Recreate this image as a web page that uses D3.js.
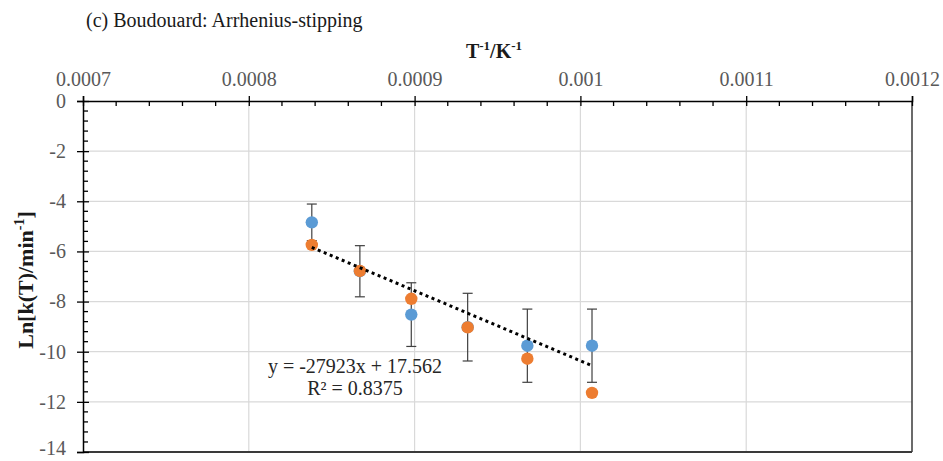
<!DOCTYPE html>
<html>
<head>
<meta charset="utf-8">
<script src="https://d3js.org/d3.v7.min.js"></script>
<style>
  body { margin: 0; background: #fff; }
  svg text { font-family: "Liberation Serif", "Times New Roman", serif; }
</style>
</head>
<body>
<div id="chart"></div>
<script>
// values
var invT      = [0.000838, 0.000867, 0.000898, 0.000932, 0.000968, 0.001007];
var blueLnk   = [-4.84, -6.79, -8.52, -9.02, -9.76, -9.76];
var blueErr   = [0.73, 1.02, 1.27, 1.35, 1.46, 1.46];
var orangeLnk = [-5.74, -6.78, -7.89, -9.03, -10.28, -11.64];
var xTicks    = [0.0007, 0.0008, 0.0009, 0.001, 0.0011, 0.0012];
var xTickText = ["0.0007", "0.0008", "0.0009", "0.001", "0.0011", "0.0012"];
var yTicks    = [0, -2, -4, -6, -8, -10, -12, -14];
var fitSlope = -27923, fitIntercept = 17.562;
var fitText = ["y = -27923x + 17.562", "R² = 0.8375"];

var width = 943, height = 461
  , svg = d3.select("#chart").append("svg").attr("width", width).attr("height", height)
  , x = d3.scaleLinear().domain([0.0007, 0.0012]).range([83, 912])
  , y = d3.scaleLinear().domain([-14, 0]).range([452, 101]);

var grey = "#595959"
  , serif = "Liberation Serif, Times New Roman, serif";

// gridlines
svg.append("g").selectAll("line").data(yTicks.slice(1, -1)).join("line")
    .attr("x1", x(0.0007)).attr("x2", x(0.0012))
    .attr("y1", d => y(d)).attr("y2", d => y(d))
    .attr("stroke", "#d9d9d9").attr("stroke-width", 1.2);
svg.append("g").selectAll("line").data(xTicks.slice(1, -1)).join("line")
    .attr("x1", d => x(d)).attr("x2", d => x(d))
    .attr("y1", y(0)).attr("y2", y(-14))
    .attr("stroke", "#d9d9d9").attr("stroke-width", 1.2);

// frame: bottom and right
svg.append("line").attr("x1", x(0.0007)).attr("x2", x(0.0012)).attr("y1", y(-14)).attr("y2", y(-14))
    .attr("stroke", "#3a3a3a").attr("stroke-width", 2);
svg.append("line").attr("x1", x(0.0012)).attr("x2", x(0.0012)).attr("y1", y(0)).attr("y2", y(-14))
    .attr("stroke", "#3a3a3a").attr("stroke-width", 1.5);

// top x axis
var xAxis = d3.axisTop(x).tickValues(xTicks).tickFormat((d, i) => xTickText[i]).tickSize(5).tickPadding(10);
var gx = svg.append("g").attr("transform", "translate(0," + y(0) + ")").call(xAxis)
    .attr("font-family", serif).attr("font-size", 20);
gx.select(".domain").attr("stroke", "#000").attr("stroke-width", 1.5);
gx.selectAll(".tick line").attr("y2", 5).attr("y1", -5).attr("stroke", "#000").attr("stroke-width", 1.3);
gx.selectAll(".tick text").attr("fill", grey).style("font-family", serif);
var xMinor = d3.range(0, 26).map(i => 0.0007 + i * 0.00002).filter((d, i) => i % 5 != 0);
svg.append("g").selectAll("line").data(xMinor).join("line")
    .attr("x1", d => x(d)).attr("x2", d => x(d)).attr("y1", y(0)).attr("y2", y(0) + 5)
    .attr("stroke", "#000").attr("stroke-width", 1.3);

// left y axis (plain hyphen minus, as in the reference)
var yAxis = d3.axisLeft(y).tickValues(yTicks).tickFormat(d => String(d)).tickSize(6).tickPadding(11);
var gy = svg.append("g").attr("transform", "translate(" + x(0.0007) + ",0)").call(yAxis)
    .attr("font-family", serif).attr("font-size", 20);
gy.select(".domain").attr("stroke", "#000").attr("stroke-width", 1.5);
gy.selectAll(".tick line").attr("x1", 6).attr("x2", -6).attr("stroke", "#000").attr("stroke-width", 1.3);
gy.selectAll(".tick text").attr("fill", grey).style("font-family", serif)
    .filter(d => d == -14).attr("dy", "0.1em");   // keep the bottom label inside the window
var yMinor = d3.range(0, 36).map(i => -i * 0.4).filter((d, i) => i % 5 != 0);
svg.append("g").selectAll("line").data(yMinor).join("line")
    .attr("x1", x(0.0007)).attr("x2", x(0.0007) + 5).attr("y1", d => y(d)).attr("y2", d => y(d))
    .attr("stroke", "#000").attr("stroke-width", 1.3);

// error bars on the blue series
var err = svg.append("g").attr("stroke", "#404040").attr("stroke-width", 1.2).attr("fill", "none");
invT.forEach(function (t, i) {
  var top = y(blueLnk[i] + blueErr[i]), bot = y(blueLnk[i] - blueErr[i]), cx = x(t);
  err.append("line").attr("x1", cx).attr("x2", cx).attr("y1", top).attr("y2", bot);
  err.append("line").attr("x1", cx - 5).attr("x2", cx + 5).attr("y1", top).attr("y2", top);
  err.append("line").attr("x1", cx - 5).attr("x2", cx + 5).attr("y1", bot).attr("y2", bot);
});

// markers
svg.append("g").selectAll("circle").data(invT).join("circle")
    .attr("cx", d => x(d)).attr("cy", (d, i) => y(blueLnk[i])).attr("r", 6.2).attr("fill", "#5B9BD5");
svg.append("g").selectAll("circle").data(invT).join("circle")
    .attr("cx", d => x(d)).attr("cy", (d, i) => y(orangeLnk[i])).attr("r", 6.2).attr("fill", "#ED7D31");

// linear trendline
var tEnds = d3.extent(invT);
svg.append("path")
    .attr("d", d3.line().x(d => x(d)).y(d => y(fitSlope * d + fitIntercept))(tEnds))
    .attr("stroke", "#000").attr("stroke-width", 3).attr("stroke-dasharray", "3,3.5").attr("fill", "none");

// fit label
svg.append("g").selectAll("text").data(fitText).join("text")
    .attr("x", 355).attr("y", (d, i) => 373 + i * 22).attr("text-anchor", "middle")
    .attr("font-size", 20).attr("fill", "#262626").text(d => d);

// titles
svg.append("text").attr("x", 86).attr("y", 27).attr("font-size", 20).attr("fill", "#1a1a1a")
    .text("(c) Boudouard: Arrhenius-stipping");

var xt = svg.append("text").attr("x", 494).attr("y", 58).attr("text-anchor", "middle")
    .attr("font-size", 20).attr("font-weight", "bold").attr("fill", "#1a1a1a");
xt.append("tspan").text("T");
xt.append("tspan").attr("dy", -8).attr("font-size", 13).text("-1");
xt.append("tspan").attr("dy", 8).text("/K");
xt.append("tspan").attr("dy", -8).attr("font-size", 13).text("-1");

var yt = svg.append("text").attr("transform", "translate(33,280) rotate(-90)").attr("text-anchor", "middle")
    .attr("font-size", 22).attr("font-weight", "bold").attr("fill", "#1a1a1a");
yt.append("tspan").text("Ln[k(T)/min");
yt.append("tspan").attr("dy", -9).attr("font-size", 14).text("-1");
yt.append("tspan").attr("dy", 9).text("]");
</script>
</body>
</html>
